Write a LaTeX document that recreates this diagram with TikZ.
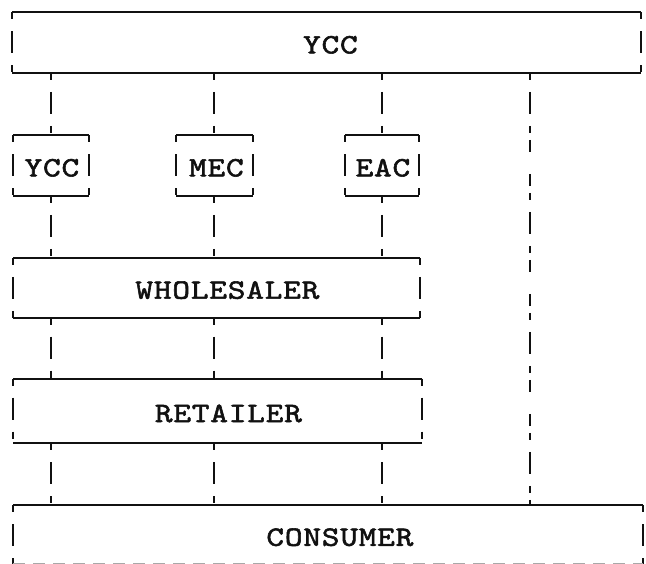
\documentclass[tikz,border=0pt]{standalone}
\usepackage{fontspec}
\usepackage{tikz}
\usetikzlibrary{positioning}
\definecolor{ink}{HTML}{111111}
\definecolor{faded}{HTML}{A8A8A8}
\newfontfamily\typer{lmmono10-regular}[Extension=.otf,LetterSpace=3,
  FakeStretch=1.2,FakeBold=2]
\newcommand{\nudge}[1]{\hspace*{#1}}

\begin{document}
\begin{tikzpicture}[
  x=0.5pt,y=-0.5pt,
  box/.style={inner sep=0pt,anchor=north west,minimum height=30pt,
              text height=11pt,text depth=0pt,
              font=\typer\fontsize{14}{14}\selectfont,text=ink},
  hrule/.style={draw=ink,line width=1pt},
  vrule/.style={draw=ink,line width=1pt,
                dash pattern=on 3.5pt off 6pt on 11pt off 6pt on 3.5pt}
]
\useasboundingbox (0,0) rectangle (646,563);

\node[box,minimum width=314pt] (top) at (12,12) {\nudge{4pt}YCC};
\node[box,minimum width=37.5pt] (ycc) at (13,135) {\nudge{1pt}YCC};
\node[box,minimum width=38pt] (mec) at (176,135) {\nudge{2pt}MEC};
\node[box,minimum width=36.5pt] (eac) at (345,135) {\nudge{1pt}EAC};
\node[box,minimum width=203pt,minimum height=29.5pt,
      below=31pt of ycc.south west,anchor=north west] (whole) {\nudge{11pt}WHOLESALER};
\node[box,minimum width=204pt,minimum height=32pt,
      below=30.5pt of whole.south west,anchor=north west] (retail) {\nudge{11pt}RETAILER};
\node[box,minimum width=314.5pt,minimum height=29pt,
      below=31pt of retail.south west,anchor=north west] (cons) {\nudge{12pt}CONSUMER};
\coordinate (direct) at (530,0);

% typed box outlines
\foreach \n in {top,ycc,mec,eac,whole,retail}{
  \draw[hrule] (\n.north west) -- (\n.north east);
  \draw[hrule] (\n.south west) -- (\n.south east);
  \draw[vrule] (\n.north west) -- (\n.south west);
  \draw[vrule] (\n.north east) -- (\n.south east);
}
\draw[hrule] (cons.north west) -- (cons.north east);
\draw[vrule] (cons.north west) -- (cons.south west);
\draw[vrule] (cons.north east) -- (cons.south east);
\draw[draw=faded,line width=1pt,dash pattern=on 6pt off 4pt]
  (cons.south west) -- (cons.south east);

% links
\foreach \n in {ycc,mec,eac}{
  \draw[vrule] (\n.north |- top.south) -- (\n.north);
  \draw[vrule] (\n.south) -- (\n.south |- whole.north);
  \draw[vrule] (\n.south |- whole.south) -- (\n.south |- retail.north);
  \draw[vrule] (\n.south |- retail.south) -- (\n.south |- cons.north);
}
\draw[vrule] (top.south -| direct) -- (cons.north -| direct);
\end{tikzpicture}
\end{document}
